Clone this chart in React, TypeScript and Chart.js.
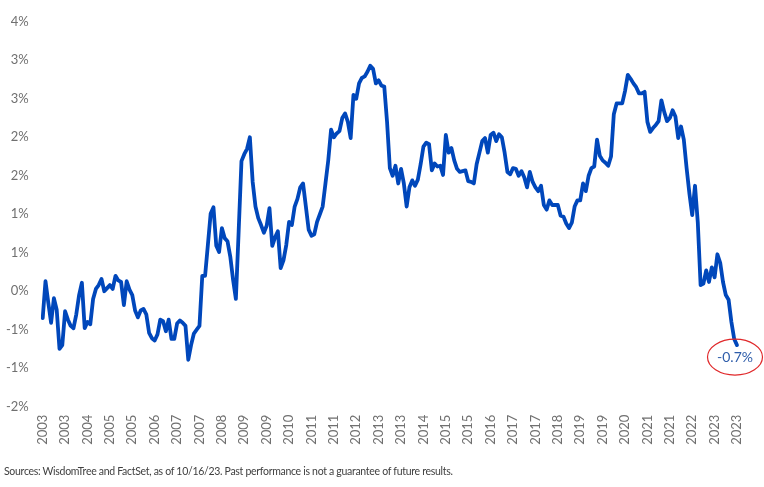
import React, { useEffect, useRef } from 'react';
import { Chart, registerables } from 'chart.js';

Chart.register(...registerables);

const START_YEAR = 2003;
const TICK_EVERY = 8;

// Monthly series (%), Jan 2003 .. Sep/Oct 2023
const seriesValues: number[] = [
  -0.35, 0.13, -0.15, -0.41, -0.09, -0.24, -0.75, -0.70, -0.26, -0.37,
  -0.45, -0.48, -0.30, -0.05, 0.11, -0.48, -0.40, -0.43, -0.10, 0.03,
  0.08, 0.16, 0.00, 0.04, 0.08, 0.03, 0.20, 0.14, 0.12, -0.18,
  0.13, 0.02, -0.05, -0.25, -0.34, -0.25, -0.23, -0.30, -0.54, -0.61,
  -0.64, -0.56, -0.37, -0.39, -0.52, -0.37, -0.62, -0.62, -0.42, -0.38,
  -0.41, -0.45, -0.89, -0.70, -0.55, -0.50, -0.45, 0.20, 0.20, 0.60,
  1.01, 1.09, 0.59, 0.51, 0.82, 0.69, 0.65, 0.45, 0.15, -0.10,
  0.78, 1.69, 1.78, 1.85, 2.00, 1.42, 1.10, 0.95, 0.86, 0.76,
  0.85, 1.08, 0.59, 0.70, 0.78, 0.30, 0.40, 0.60, 0.90, 0.86,
  1.10, 1.20, 1.35, 1.40, 1.10, 0.80, 0.72, 0.74, 0.90, 1.00,
  1.10, 1.40, 1.70, 2.10, 2.00, 2.05, 2.08, 2.25, 2.31, 2.20,
  1.99, 2.55, 2.50, 2.70, 2.77, 2.79, 2.85, 2.93, 2.89, 2.70,
  2.74, 2.67, 2.66, 2.20, 1.60, 1.50, 1.63, 1.40, 1.59, 1.40,
  1.10, 1.35, 1.44, 1.37, 1.45, 1.65, 1.88, 1.93, 1.91, 1.57,
  1.66, 1.62, 1.63, 1.51, 2.03, 1.80, 1.86, 1.70, 1.59, 1.55,
  1.56, 1.57, 1.43, 1.42, 1.40, 1.65, 1.80, 1.95, 1.99, 1.80,
  2.03, 2.06, 1.95, 2.04, 2.00, 1.80, 1.55, 1.52, 1.60, 1.59,
  1.50, 1.56, 1.48, 1.35, 1.55, 1.42, 1.35, 1.30, 1.37, 1.12,
  1.06, 1.18, 1.12, 1.12, 1.12, 0.98, 0.97, 0.88, 0.82, 0.89,
  1.10, 1.18, 1.18, 1.40, 1.30, 1.50, 1.60, 1.62, 1.97, 1.76,
  1.70, 1.67, 1.63, 1.75, 2.30, 2.44, 2.44, 2.44, 2.60, 2.81,
  2.76, 2.70, 2.65, 2.57, 2.57, 2.59, 2.20, 2.07, 2.12, 2.16,
  2.21, 2.48, 2.33, 2.21, 2.25, 2.35, 2.27, 1.99, 2.14, 1.97,
  1.60, 1.27, 0.99, 1.37, 0.89, 0.08, 0.10, 0.27, 0.12, 0.31,
  0.18, 0.48, 0.37, 0.12, -0.05, -0.11, -0.40, -0.62, -0.70,
];

const monthLabels: string[] = seriesValues.map(
  (_, i) => `${START_YEAR + Math.floor(i / 12)}-${String((i % 12) + 1).padStart(2, '0')}`
);

const Y_MIN = -1.5;
const Y_MAX = 3.5;
const Y_STEP = 0.5;

const endLabel = '-0.7%';
const sourceNote =
  'Sources: WisdomTree and FactSet, as of 10/16/23. Past performance is not a guarantee of future results.';

const LINE_COLOR = '#0047BB';
const TICK_COLOR = '#707070';
const FONT = 'Lato, "Open Sans", sans-serif';

function pctLabel(v: number): string {
  const r = Math.sign(v) * Math.round(Math.abs(v));
  if (r === 0) return '0%';
  return `${r}%`;
}

const endNotePlugin = {
  id: 'endNote',
  afterDatasetsDraw(chart: any) {
    const meta = chart.getDatasetMeta(0);
    const pt = meta.data[meta.data.length - 1];
    if (!pt) return;
    const ctx = chart.ctx;
    const cx = pt.x - 2;
    const cy = pt.y + 12;
    ctx.save();
    ctx.beginPath();
    ctx.ellipse(cx, cy, 27.5, 18, 0, 0, Math.PI * 2);
    ctx.strokeStyle = '#E0282A';
    ctx.lineWidth = 1.2;
    ctx.stroke();
    ctx.fillStyle = '#2E5DAA';
    ctx.font = `14px ${FONT}`;
    ctx.textAlign = 'center';
    ctx.textBaseline = 'middle';
    ctx.fillText(endLabel, cx, cy);
    ctx.restore();
  },
};

export default function App() {
  const canvasRef = useRef<HTMLCanvasElement | null>(null);

  useEffect(() => {
    if (!canvasRef.current) return;
    const chart = new Chart(canvasRef.current, {
      type: 'line',
      data: {
        labels: monthLabels,
        datasets: [
          {
            data: seriesValues,
            borderColor: LINE_COLOR,
            borderWidth: 3.8,
            pointRadius: 0,
            tension: 0,
            borderJoinStyle: 'round',
            borderCapStyle: 'round',
            fill: false,
          },
        ],
      },
      options: {
        animation: false,
        responsive: false,
        maintainAspectRatio: false,
        layout: { padding: { left: 0, top: 15, right: 27, bottom: 20.3 } },
        plugins: {
          legend: { display: false },
          tooltip: { enabled: false },
        },
        scales: {
          x: {
            type: 'category',
            offset: false,
            grid: { display: false, drawTicks: false },
            border: { display: false },
            afterFit: (scale: any) => {
              scale.height = 60;
            },
            ticks: {
              autoSkip: false,
              maxRotation: 90,
              minRotation: 90,
              padding: 8,
              color: TICK_COLOR,
              font: { family: FONT, size: 13 },
              callback: (_v: any, i: number) =>
                i % TICK_EVERY === 0 ? monthLabels[i].slice(0, 4) : '',
            },
          },
          y: {
            min: Y_MIN,
            max: Y_MAX,
            grid: { display: false, drawTicks: false },
            border: { display: false },
            afterFit: (scale: any) => {
              scale.width = 42.7;
            },
            ticks: {
              stepSize: Y_STEP,
              padding: 14,
              color: TICK_COLOR,
              font: { family: FONT, size: 13 },
              callback: (v: any) => pctLabel(Number(v)),
            },
          },
        },
      },
      plugins: [endNotePlugin],
    });
    return () => chart.destroy();
  }, []);

  return (
    <div style={{ position: 'absolute', left: 0, top: 0, width: 764, height: 487, background: '#fff' }}>
      <canvas ref={canvasRef} width={764} height={487} style={{ display: 'block' }} />
      <div
        style={{
          position: 'absolute',
          left: 4,
          top: 464,
          fontFamily: FONT,
          fontSize: 10.5,
          letterSpacing: -0.3,
          color: '#404040',
          whiteSpace: 'nowrap',
          lineHeight: '15px',
        }}
      >
        {sourceNote}
      </div>
    </div>
  );
}
